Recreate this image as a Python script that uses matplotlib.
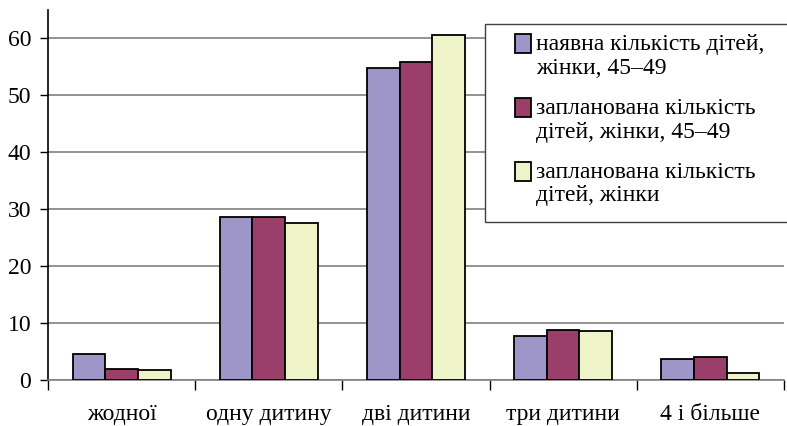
import numpy as np
import matplotlib
matplotlib.use('Agg')
import matplotlib.pyplot as plt
from matplotlib.patches import Rectangle
from matplotlib.legend_handler import HandlerPatch

plt.rcParams['font.family'] = ['Liberation Serif', 'DejaVu Serif']

# Data
categories = ['жодної', 'одну дитину', 'дві дитини', 'три дитини', '4 і більше']
series_names = ['наявна кількість дітей,\nжінки, 45–49',
                'запланована кількість\nдітей, жінки, 45–49',
                'запланована кількість\nдітей, жінки']
existing_45_49 = [4.5, 28.7, 54.8, 7.8, 3.6]
planned_45_49 = [2.0, 28.7, 55.9, 8.8, 4.0]
planned_all = [1.7, 27.5, 60.5, 8.6, 1.3]
colors = ['#9E95C8', '#9A3F69', '#EEF3C8']

fig = plt.figure(figsize=(7.87, 4.26), dpi=100)
ax = fig.add_axes([0.061, 0.108, 0.935, 0.869])

x = np.arange(len(categories))
w = 1 / 4.5
for i, (vals, name) in enumerate(zip([existing_45_49, planned_45_49, planned_all], series_names)):
    ax.bar(x + (i - 1) * w, vals, w, color=colors[i], edgecolor='black',
           linewidth=1.3, label=name, zorder=3)

ax.set_xlim(-0.5, len(categories) - 0.5)
ax.set_ylim(0, 65)
ax.set_yticks(range(0, 61, 10))
ax.tick_params(axis='y', labelsize=17, length=6, width=1, direction='out', pad=6)
ax.yaxis.grid(True, color='#808080', linewidth=1.2, zorder=0)
ax.set_axisbelow(True)

ax.set_xticks(x)
ax.set_xticklabels(categories, fontsize=17)
ax.tick_params(axis='x', length=0, pad=17)
ax.set_xticks(np.arange(-0.5, len(categories)), minor=True)
ax.tick_params(axis='x', which='minor', length=7, width=1, color='black')

for s in ['top', 'right']:
    ax.spines[s].set_visible(False)
ax.spines['left'].set_linewidth(1.2)
ax.spines['bottom'].set_color('#808080')
ax.spines['bottom'].set_linewidth(1.2)


# small square sitting at the bottom of the (taller) handle box
def square(legend, orig_handle, xdescent, ydescent, width, height, fontsize):
    s = 0.66 * fontsize
    return Rectangle((-xdescent + width - s, -ydescent), s, s)


# legend frame runs off the right edge, like the original
fig.patches.append(Rectangle((485 / 787, 1 - 222 / 426), 310 / 787, 198 / 426,
                             transform=fig.transFigure, fill=True, facecolor='white',
                             edgecolor='#404040', linewidth=1.0, zorder=5))

handles, labels = ax.get_legend_handles_labels()
leg = fig.legend(handles, labels, loc='upper left', bbox_to_anchor=(515 / 787, 1 - 34 / 426),
                 fontsize=17, frameon=False,
                 handlelength=0.66, handleheight=0.88, handletextpad=0.25,
                 labelspacing=0.8, borderpad=0, borderaxespad=0,
                 handler_map={Rectangle: HandlerPatch(patch_func=square)})
leg.set_zorder(6)
for t in leg.get_texts():
    t.set_linespacing(1.18)
for row in leg._legend_handle_box.get_children():
    for hp in row.get_children():
        hp.align = 'top'

fig.savefig('out.png', dpi=100)
